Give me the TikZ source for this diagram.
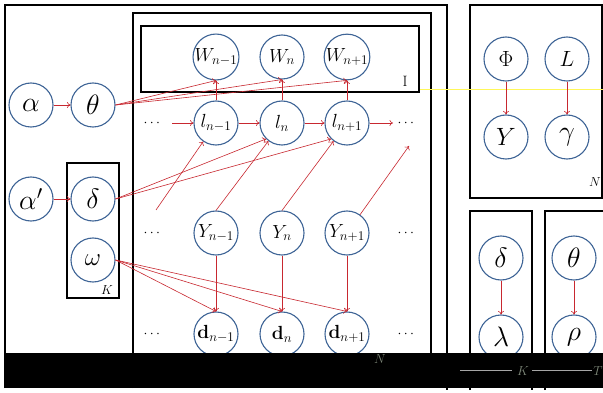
\RequirePackage{fix-cm}
\documentclass[tikz,border=0pt]{standalone}
\usepackage{amsmath}
\usetikzlibrary{arrows.meta}
\definecolor{nodeblue}{RGB}{62,100,150}
\definecolor{edgered}{RGB}{200,40,48}
\definecolor{bandtext}{RGB}{125,135,120}
\tikzset{
  var/.style={circle, draw=nodeblue, line width=1.1pt, minimum size=44pt, inner sep=0pt, fill=white},
  bigsym/.style={font=\fontsize{28}{30}\selectfont},
  subsym/.style={font=\fontsize{19}{21}\selectfont},
  dotsnode/.style={font=\fontsize{14}{16}\selectfont, inner sep=0pt},
  plate/.style={draw=black, line width=1.3pt},
  edge/.style={draw=edgered, line width=0.6pt, -{To[length=3.5pt,width=6pt]}},
  platelabel/.style={font=\fontsize{13}{15}\selectfont, inner sep=0pt}
}
\begin{document}
\begin{tikzpicture}[x=1pt,y=-1pt]
\useasboundingbox (0,0) rectangle (603,393);
\fill[white] (0,0) rectangle (603,393);

% plates
\draw[plate] (5,388) -- (5,5) -- (447,5) -- (447,390);
\draw[plate] (133,388) -- (133,13) -- (431,13) -- (431,388);
\draw[plate] (141,26) rectangle (419,92);
\draw[plate] (67,163) rectangle (119,298);
\draw[plate] (470,5) rectangle (602,198);
\draw[plate] (470,390) -- (470,211) -- (532,211) -- (532,390);
\draw[plate] (545,390) -- (545,211) -- (610,211);
\draw[yellow!65!white, line width=0.4pt] (420,89) -- (603,89);

\node[platelabel, font=\fontsize{15}{17}\selectfont] (lblI) at (405,81) {I};
\node[platelabel] (lblK) at (107,290) {$K$};
\node[platelabel] (lblN) at (595,182) {$N$};

% hyperparameters and topic level
\node[var, bigsym] (alpha) at (31,105) {$\alpha$};
\node[var, bigsym] (theta) at (93,105) {$\theta$};
\node[var, bigsym] (alphap) at (31,199) {$\alpha'$};
\node[var, bigsym] (delta) at (93,199) {$\delta$};
\node[var, font=\fontsize{25}{27}\selectfont] (omega) at (93,260) {$\omega$};

% sequence
\node[var, subsym] (W1) at (216,57) {$W_{n-1}$};
\node[var, subsym] (W2) at (282,57) {$W_{n}$};
\node[var, subsym] (W3) at (347,57) {$W_{n+1}$};
\node[var, subsym] (l1) at (216,123) {$l_{n-1}$};
\node[var, subsym] (l2) at (282,123) {$l_{n}$};
\node[var, subsym] (l3) at (347,123) {$l_{n+1}$};
\node[var, subsym] (Y1) at (216,233) {$Y_{n-1}$};
\node[var, subsym] (Y2) at (282,233) {$Y_{n}$};
\node[var, subsym] (Y3) at (347,233) {$Y_{n+1}$};
\node[var, subsym] (d1) at (216,334) {$\mathbf{d}_{n-1}$};
\node[var, subsym] (d2) at (282,334) {$\mathbf{d}_{n}$};
\node[var, subsym] (d3) at (347,334) {$\mathbf{d}_{n+1}$};

\node[dotsnode] (ldl) at (153,123) {$\cdots$};
\node[dotsnode] (ldr) at (407,123) {$\cdots$};
\node[dotsnode] (ydl) at (153,233) {$\cdots$};
\node[dotsnode] (ydr) at (407,233) {$\cdots$};
\node[dotsnode] (ddl) at (153,334) {$\cdots$};
\node[dotsnode] (ddr) at (407,334) {$\cdots$};

\coordinate (lin) at (172,123);
\coordinate (lout) at (393,123);
\coordinate (yprev) at (156,210);
\coordinate (ynext) at (409,146);

% right-hand panels
\node[var, font=\fontsize{22}{24}\selectfont] (Phi) at (506,59) {$\Phi$};
\node[var, font=\fontsize{22}{24}\selectfont] (L) at (567,59) {$L$};
\node[var, font=\fontsize{25}{27}\selectfont] (Yr) at (506,137) {$Y$};
\node[var, bigsym] (gam) at (567,137) {$\gamma$};
\node[var, bigsym] (deltar) at (501,258) {$\delta$};
\node[var, bigsym] (thetar) at (574,258) {$\theta$};
\node[var, bigsym] (lam) at (501,337) {$\lambda$};
\node[var, bigsym] (rho) at (574,337) {$\rho$};

% edges
\draw[edge] (alpha) -- (theta);
\draw[edge] (alphap) -- (delta);
\foreach \w in {W1,W2,W3} \draw[edge] (theta.east) -- (\w.south);
\draw[edge] (l1.north) -- (W1.south);
\draw[edge] (l2.north) -- (W2.south);
\draw[edge] (l3.north) -- (W3.south);
\draw[edge] (lin) -- (l1);
\draw[edge] (l1) -- (l2);
\draw[edge] (l2) -- (l3);
\draw[edge] (l3) -- (lout);
\draw[edge] (delta.east) -- (l2.225);
\draw[edge] (delta.east) -- (l3.225);
\draw[edge] (yprev) -- (l1);
\draw[edge] (Y1.north) -- (l2);
\draw[edge] (Y2.north) -- (l3);
\draw[edge] (Y3) -- (ynext);
\draw[edge] (Y1) -- (d1);
\draw[edge] (Y2) -- (d2);
\draw[edge] (Y3) -- (d3);
\foreach \d in {d1,d2,d3} \draw[edge] (omega.east) -- (\d.north);
\draw[edge] (Phi) -- (Yr);
\draw[edge] (L) -- (gam);
\draw[edge] (deltar) -- (lam);
\draw[edge] (thetar) -- (rho);

% dark band across the foot
\fill[black] (6,353) rectangle (603,388);
\draw[gray!70, line width=0.4pt] (460,370) -- (512,370);
\draw[gray!70, line width=0.4pt] (532,370) -- (592,370);
\node[platelabel, text=bandtext] (bandN) at (380,359) {$N$};
\node[platelabel, text=bandtext] (bandK) at (523,371) {$K$};
\node[platelabel, text=bandtext] (bandT) at (598,371) {$T$};
\end{tikzpicture}
\end{document}
